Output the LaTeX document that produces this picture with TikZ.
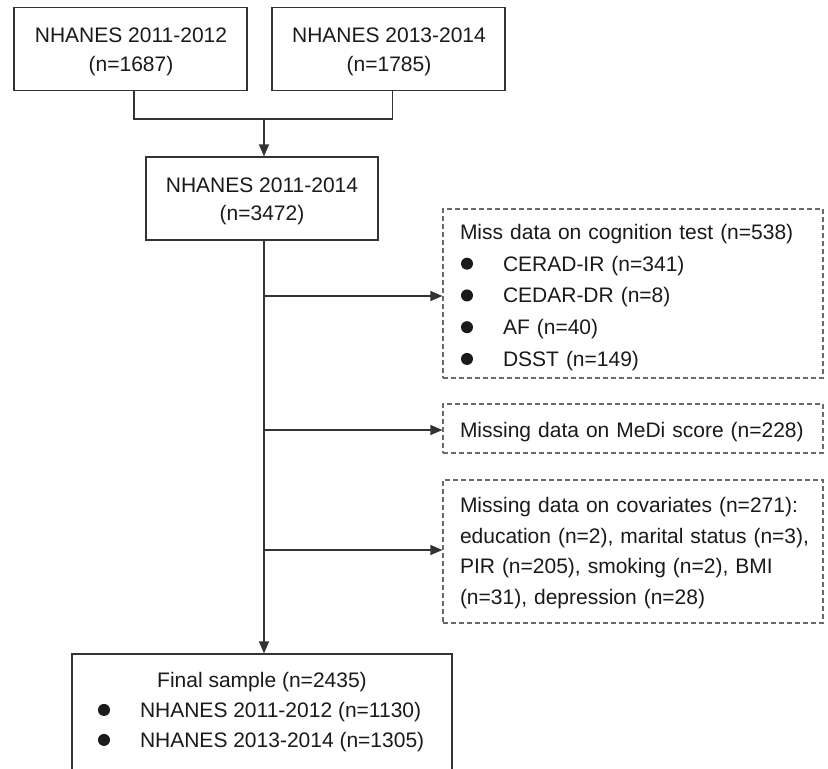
\documentclass[tikz,border=0pt]{standalone}
\usepackage{fontspec}
\setmainfont{Liberation Sans}
\usetikzlibrary{arrows.meta,calc}
\definecolor{ln}{HTML}{333333}
\definecolor{dsh}{HTML}{6A6A6A}
\definecolor{tx}{HTML}{1A1A1A}
\newcommand{\blt}[2]{\makebox[#2][l]{\hspace*{#1}\tikz[baseline=-7.5pt]\fill[tx] (0,0) circle (6pt);}}
\begin{document}
\begin{tikzpicture}[x=1pt,y=-1pt,line width=1.2pt,
  font=\fontsize{21}{29}\selectfont,
  box/.style={draw=ln,rectangle,inner sep=0pt},
  dbox/.style={draw=dsh,dash pattern=on 5pt off 3pt,rectangle,inner sep=0pt},
  txt/.style={inner sep=0pt,text=tx},
  arr/.style={draw=ln,-{Triangle[length=12pt,width=10pt]}}]
\useasboundingbox (0,0) rectangle (828,769);
\clip (0,0) rectangle (828,769);
\fill[white] (0,0) rectangle (828,769);
% top boxes
\node[box,minimum width=233pt,minimum height=83pt] (A) at (130.5,49) {};
\node[txt,align=center] (At) at (131,51.5) {NHANES 2011-2012\\(n=1687)};
\node[box,minimum width=233pt,minimum height=83pt] (B) at (388.5,49) {};
\node[txt,align=center] (Bt) at (389,51.5) {NHANES 2013-2014\\(n=1785)};
\coordinate (j) at (264,119);
\draw[ln] ([xshift=3.5pt]A.south) |- (j) -| ([xshift=4pt]B.south);
\node[box,minimum width=232pt,minimum height=83pt] (C) at (262,198.5) {};
\node[txt,align=center,font=\fontsize{21}{28}\selectfont] (Ct) at (262,201) {NHANES 2011-2014\\(n=3472)};
\draw[arr] (j) -- (j |- C.north);
% exclusion boxes
\node[dbox,minimum width=380pt,minimum height=169pt] (D) at (633,293.5) {};
\node[txt,text width=350pt,align=left,font=\fontsize{21}{31.75}\selectfont] (Dt) at (635,297.5) {Miss data on cognition test (n=538)\\
\blt{1pt}{43pt}CERAD-IR (n=341)\\
\blt{1pt}{43pt}CEDAR-DR (n=8)\\
\blt{1pt}{43pt}AF (n=40)\\
\blt{1pt}{43pt}DSST (n=149)};
\node[dbox,minimum width=380pt,minimum height=49pt] (E) at (633,428.5) {};
\node[txt,text width=350pt,align=left] (Et) at (635,432) {Missing data on MeDi score (n=228)};
\node[dbox,minimum width=380pt,minimum height=143pt] (F) at (633,551.5) {};
\node[txt,text width=350pt,align=left,font=\fontsize{21}{30.8}\selectfont] (Ft) at (635,553) {Missing data on covariates (n=271):\\
education (n=2), marital status (n=3),\\
\makebox[350pt][s]{PIR (n=205), smoking (n=2), BMI}\\
(n=31), depression (n=28)};
% final box
\node[box,minimum width=380pt,minimum height=130pt] (G) at (262,719) {};
\node[txt,align=left,font=\fontsize{21}{30}\selectfont] (Gt) at (262,712) {\makebox[328pt]{Final sample (n=2435)}\\
\blt{0pt}{42pt}NHANES 2011-2012 (n=1130)\\
\blt{0pt}{42pt}NHANES 2013-2014 (n=1305)};
% main flow
\coordinate (b1) at (264,296);
\coordinate (b2) at (264,430);
\coordinate (b3) at (264,550);
\draw[arr] (j |- C.south) -- (j |- G.north);
\draw[arr] (b1) -- (b1 -| D.west);
\draw[arr] (b2) -- (b2 -| E.west);
\draw[arr] (b3) -- (b3 -| F.west);
\end{tikzpicture}
\end{document}
